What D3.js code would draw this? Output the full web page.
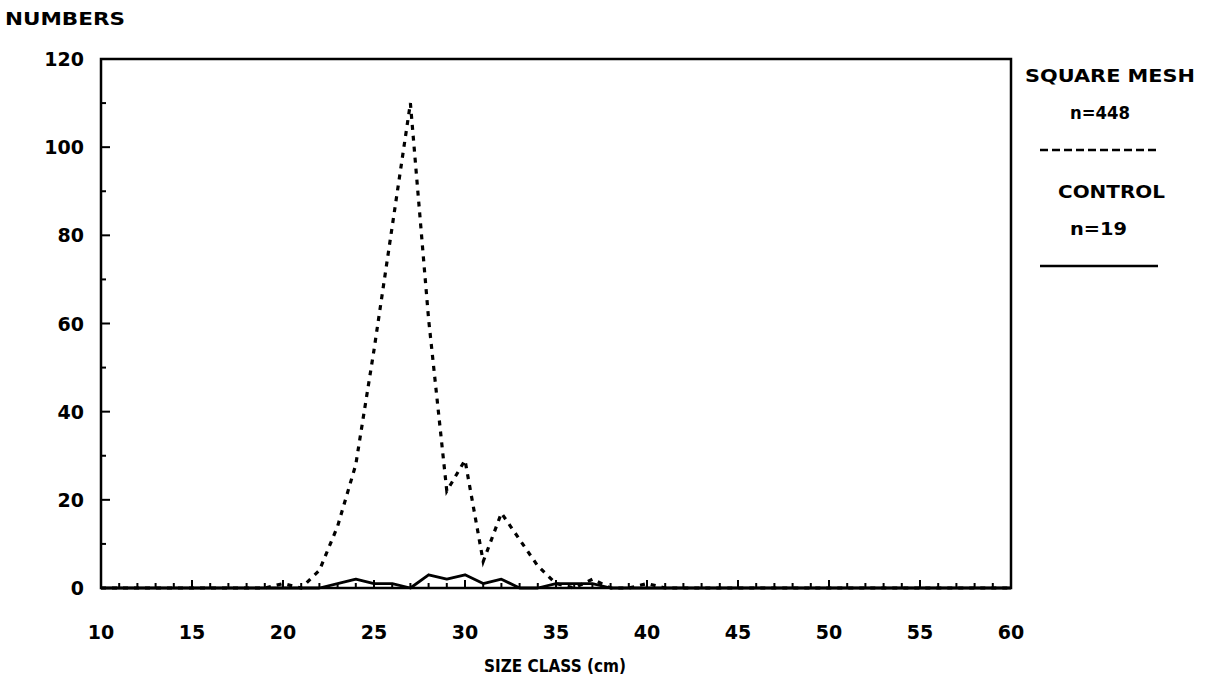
<!DOCTYPE html>
<html>
<head>
<meta charset="utf-8">
<script src="https://cdn.jsdelivr.net/npm/d3@7"></script>
<style>
  body { margin: 0; background: #fff; }
  text { font-family: "DejaVu Sans", "Liberation Sans", Arial, sans-serif; font-weight: bold; fill: #000; }
</style>
</head>
<body>
<svg width="1206" height="682"></svg>
<script>
// size classes (cm) and counts
const sizeClass = d3.range(10, 61);
const squareMesh = {20: 1, 21: 0, 22: 4, 23: 14, 24: 28, 25: 54, 26: 82, 27: 110, 28: 61, 29: 22,
  30: 29, 31: 6, 32: 17, 33: 11, 34: 5, 35: 1, 36: 0, 37: 2, 38: 0, 39: 0, 40: 1};
const control = {23: 1, 24: 2, 25: 1, 26: 1, 27: 0, 28: 3, 29: 2, 30: 3, 31: 1, 32: 2, 33: 0,
  34: 0, 35: 1, 36: 1, 37: 1};
const xTicks = [10, 15, 20, 25, 30, 35, 40, 45, 50, 55, 60];
const yTicks = [0, 20, 40, 60, 80, 100, 120];
const legendItems = [
  {name: "SQUARE MESH", n: "n=448", dash: "8,4"},
  {name: "CONTROL", n: "n=19", dash: null}
];

const svg = d3.select("svg");
const mLeft = 101, mRight = 1011, mTop = 59, mBottom = 588;

const x = d3.scaleLinear().domain([10, 60]).range([mLeft, mRight]);
const y = d3.scaleLinear().domain([0, 120]).range([mBottom, mTop]);

const meshPts = sizeClass.map(c => [c, squareMesh[c] || 0]);
const ctrlPts = sizeClass.map(c => [c, control[c] || 0]);

const line = d3.line().x(d => x(d[0])).y(d => y(d[1]));

// ticks pointing inward
const g = svg.append("g").attr("stroke", "#000").attr("stroke-width", 2);
g.selectAll(".xt").data(d3.range(11, 60)).enter().append("line")
  .attr("x1", d => x(d)).attr("x2", d => x(d))
  .attr("y1", mBottom).attr("y2", d => mBottom - (d % 5 === 0 ? 8 : 5));
g.selectAll(".yt").data(d3.range(10, 120, 10)).enter().append("line")
  .attr("y1", d => y(d)).attr("y2", d => y(d))
  .attr("x1", mLeft).attr("x2", d => mLeft + (d % 20 === 0 ? 9 : 5));

// data lines
svg.append("path").datum(ctrlPts).attr("d", line)
  .attr("fill", "none").attr("stroke", "#000").attr("stroke-width", 2.8)
  .attr("stroke-linejoin", "round");
svg.append("path").datum(meshPts).attr("d", line)
  .attr("fill", "none").attr("stroke", "#000").attr("stroke-width", 3.2)
  .attr("stroke-dasharray", "5,6");

// frame
svg.append("rect").attr("x", mLeft).attr("y", mTop)
  .attr("width", mRight - mLeft).attr("height", mBottom - mTop)
  .attr("fill", "none").attr("stroke", "#000").attr("stroke-width", 2.5);

// tick labels
svg.selectAll(".xl").data(xTicks).enter().append("text")
  .attr("x", d => x(d)).attr("y", 639)
  .attr("text-anchor", "middle").style("font-size", "19px")
  .text(d => d);
svg.selectAll(".yl").data(yTicks).enter().append("text")
  .attr("x", 84).attr("y", d => y(d) + 7)
  .attr("text-anchor", "end").style("font-size", "19px")
  .text(d => d);

function label(txt, x0, y0, w, size) {
  return svg.append("text").attr("x", x0).attr("y", y0)
    .attr("textLength", w).attr("lengthAdjust", "spacingAndGlyphs")
    .style("font-size", size + "px").text(txt);
}

label("NUMBERS", 5, 25, 120, 17);
label("SIZE CLASS (cm)", 484, 672, 142, 17);

// legend
const legendPos = [
  {nameX: 1025, nameW: 170, nX: 1070, nW: 60},
  {nameX: 1058, nameW: 107, nX: 1070, nW: 57}
];
legendItems.forEach((d, i) => {
  const oy = i * 116, p = legendPos[i];
  label(d.name, p.nameX, 82 + oy, p.nameW, 17);
  label(d.n, p.nX, 119 + oy, p.nW, 17);
  svg.append("line").attr("x1", 1040).attr("x2", 1158)
    .attr("y1", 150 + oy).attr("y2", 150 + oy)
    .attr("stroke", "#000").attr("stroke-width", 2.4)
    .attr("stroke-dasharray", d.dash);
});
</script>
</body>
</html>
